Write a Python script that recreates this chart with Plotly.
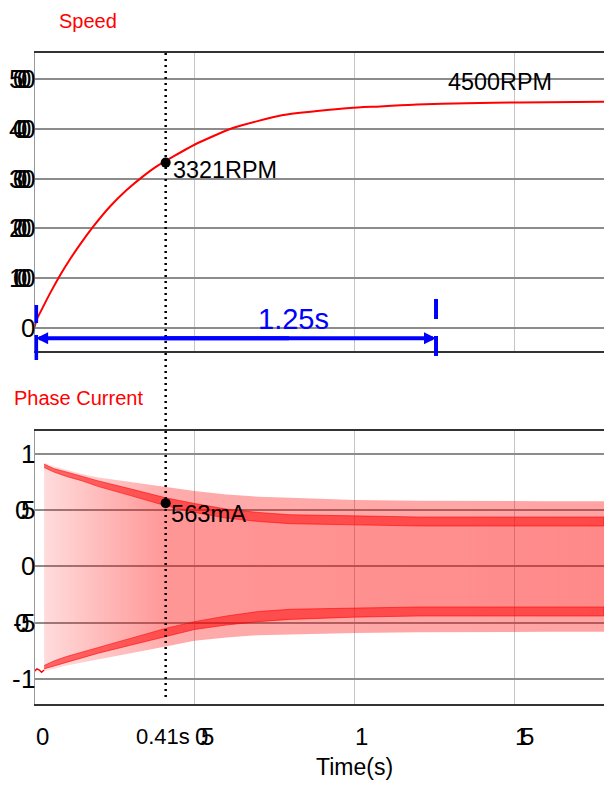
import plotly.graph_objects as go

W, H = 604, 787
FONT = "Liberation Sans, Arial, sans-serif"

# ---- motor speed during start-up (s, RPM) ----
speed_t = [0.0, 0.007, 0.028, 0.048, 0.08, 0.111, 0.142, 0.184, 0.236, 0.288, 0.34,
           0.377, 0.433, 0.5, 0.62, 0.777, 0.986, 1.08, 1.195, 1.35, 1.517, 1.78]
speed_rpm = [20, 170, 440, 690, 1060, 1380, 1675, 2040, 2440, 2770, 3050,
             3225, 3440, 3680, 4015, 4275, 4420, 4450, 4490, 4515, 4530, 4545]

# ---- phase current envelopes (A) ----
cur_start_t = [0.0, 0.008, 0.015, 0.022, 0.03]
cur_start_v = [-0.93, -0.91, -0.92, -0.94, -0.92]
cur_t = [0.03, 0.06, 0.1, 0.15, 0.2, 0.3, 0.41, 0.5, 0.6, 0.7, 0.8, 1.0, 1.2, 1.4, 1.6, 1.78]
cur_peak_hi = [0.92, 0.89, 0.86, 0.82, 0.79, 0.75, 0.71, 0.67, 0.64, 0.62, 0.61, 0.59, 0.585, 0.58, 0.58, 0.58]
cur_band_hi_top = [0.91, 0.87, 0.84, 0.80, 0.76, 0.69, 0.61, 0.56, 0.51, 0.48, 0.46, 0.45, 0.44, 0.44, 0.44, 0.44]
cur_band_hi_bot = [0.88, 0.84, 0.80, 0.76, 0.71, 0.63, 0.54, 0.48, 0.43, 0.40, 0.38, 0.37, 0.36, 0.36, 0.36, 0.36]
cur_band_lo_top = [-0.88, -0.84, -0.80, -0.76, -0.72, -0.64, -0.55, -0.49, -0.44, -0.40, -0.38, -0.37, -0.36, -0.36, -0.36, -0.36]
cur_band_lo_bot = [-0.91, -0.88, -0.85, -0.81, -0.77, -0.70, -0.62, -0.56, -0.52, -0.49, -0.47, -0.45, -0.44, -0.44, -0.44, -0.44]
cur_peak_lo = [-0.93, -0.91, -0.88, -0.85, -0.82, -0.77, -0.71, -0.66, -0.63, -0.61, -0.60, -0.59, -0.585, -0.58, -0.58, -0.58]

# ---- annotations / markers ----
mark_t = 0.41
mark_rpm = 3321
mark_cur = 0.563
final_rpm_label = "4500RPM"
span_start, span_end = 0.005, 1.255
span_label = "1.25s"
span_y = -207

# ---- axes ----
x_ticks = [0, 0.5, 1, 1.5]
x_tick_text = ["0", "0.5", "1", "1.5"]
speed_ticks = [0, 1000, 2000, 3000, 4000, 5000]
speed_tick_text = ["0", "1000", "2000", "3000", "4000", "5000"]
cur_ticks = [-1, -0.5, 0, 0.5, 1]
cur_tick_text = ["-1", "-0.5", "0", "0.5", "1"]

ADV = {c: 0.556 for c in "0123456789"}
ADV.update({".": 0.278, "-": 0.333})


def packed(text, size, k=0.28):
    """Character offsets for tick text drawn with tight, overlapping spacing."""
    offs, pos = [], 0.0
    for ch in text:
        offs.append((ch, pos))
        pos += ADV.get(ch, 0.556) * size * (k if len(text) > 2 else 1.0)
    total = offs[-1][1] + ADV.get(text[-1], 0.556) * size
    return offs, total


def label_chars(text, size, align, **kw):
    """Annotations placing each glyph of a tick label."""
    offs, total = packed(text, size)
    out = []
    for ch, p in offs:
        shift = p - total if align == "right" else p
        out.append(dict(text=ch, showarrow=False, xanchor="left", yanchor="middle",
                        borderpad=0, xshift=shift,
                        font=dict(family=FONT, size=size, color="black"), **kw))
    return out


def text_ann(text, size, color="black", **kw):
    kw.setdefault("xanchor", "center")
    return dict(text=text, showarrow=False, yanchor="middle", borderpad=0,
                font=dict(family=FONT, size=size, color=color), **kw)


fig = go.Figure()

fig.add_trace(go.Scatter(x=speed_t, y=speed_rpm, mode="lines",
                         line=dict(color="#ff0000", width=2, shape="spline", smoothing=0.6),
                         xaxis="x", yaxis="y", hoverinfo="skip"))

# outer current envelope
fig.add_trace(go.Scatter(
    x=cur_t + cur_t[::-1], y=cur_peak_hi + cur_peak_lo[::-1], fill="toself", mode="lines",
    line=dict(width=0), xaxis="x2", yaxis="y2", hoverinfo="skip",
    fillgradient=dict(type="horizontal", colorscale=[
        [0, "rgba(255,0,0,0.12)"], [0.22, "rgba(255,0,0,0.33)"], [1, "rgba(255,0,0,0.36)"]])))
# inner region
fig.add_trace(go.Scatter(
    x=cur_t + cur_t[::-1], y=cur_band_hi_bot + cur_band_lo_top[::-1], fill="toself", mode="lines",
    line=dict(width=0), xaxis="x2", yaxis="y2", hoverinfo="skip",
    fillgradient=dict(type="horizontal", colorscale=[
        [0, "rgba(255,0,0,0.02)"], [0.22, "rgba(255,0,0,0.12)"], [1, "rgba(255,0,0,0.16)"]])))
# dense bands at the current plateaus
for top, bot in [(cur_band_hi_top, cur_band_hi_bot), (cur_band_lo_top, cur_band_lo_bot)]:
    fig.add_trace(go.Scatter(
        x=cur_t + cur_t[::-1], y=top + bot[::-1], fill="toself", mode="lines",
        line=dict(width=0.8, color="rgba(255,0,0,0.7)"), fillcolor="rgba(255,0,0,0.55)",
        xaxis="x2", yaxis="y2", hoverinfo="skip"))
fig.add_trace(go.Scatter(x=cur_start_t, y=cur_start_v, mode="lines",
                         line=dict(color="#ff0000", width=1.5), xaxis="x2", yaxis="y2",
                         hoverinfo="skip"))

# measurement markers
fig.add_trace(go.Scatter(x=[mark_t], y=[mark_rpm], mode="markers",
                         marker=dict(color="black", size=10), xaxis="x", yaxis="y"))
fig.add_trace(go.Scatter(x=[mark_t], y=[mark_cur], mode="markers",
                         marker=dict(color="black", size=10), xaxis="x2", yaxis="y2"))

x_dom = [34.5 / W, 1]
xcommon = dict(range=[0, 1.78], tickvals=x_ticks, showticklabels=False, ticks="",
               showgrid=True, gridcolor="#c4c4c4", gridwidth=1, zeroline=False,
               showline=True, mirror=True, linecolor="#333333", linewidth=2, domain=x_dom)
ycommon = dict(showticklabels=False, ticks="", showgrid=True, gridcolor="#8c8c8c",
               gridwidth=1.5, zeroline=False, showline=True, linecolor="#999999", linewidth=1)
fig.update_layout(
    width=W, height=H, margin=dict(l=0, r=0, t=0, b=0),
    paper_bgcolor="white", plot_bgcolor="white", showlegend=False,
    xaxis=dict(anchor="y", **xcommon),
    xaxis2=dict(anchor="y2", matches="x", **xcommon),
    yaxis=dict(domain=[1 - 351 / H, 1 - 53 / H], range=[-462, 5522], tickvals=speed_ticks,
               anchor="x", **ycommon),
    yaxis2=dict(domain=[1 - 704 / H, 1 - 431 / H], range=[-1.222, 1.204], tickvals=cur_ticks,
                anchor="x2", **ycommon),
)

shapes = [
    dict(type="line", xref="x", yref="paper", x0=mark_t, x1=mark_t,
         y0=1 - 697 / H, y1=1 - 53 / H, line=dict(color="black", width=2.5, dash="2px,4px"),
         layer="above"),
]
for x, segs in [(span_start, [(305, 323), (335, 360)]), (span_end, [(299, 319), (336, 356)])]:
    for a, b in segs:
        shapes.append(dict(type="line", xref="x", yref="paper", x0=x, x1=x,
                           y0=1 - b / H, y1=1 - a / H, line=dict(color="#0000ff", width=4)))
fig.update_layout(shapes=shapes)

ann = []
# span arrow (two overlapping arrows so the shaft is continuous)
for end, start in ((span_start, 0.8), (span_end, 0.4)):
    ann.append(dict(x=end, y=span_y, xref="x", yref="y", ax=start, ay=span_y, axref="x",
                    ayref="y", text="", showarrow=True, arrowhead=2, arrowsize=0.6,
                    arrowwidth=4, arrowcolor="#0000ff", standoff=0, startstandoff=0))
ann.append(text_ann(span_label, 29, "#0000ff", x=0.81, y=190, xref="x", yref="y"))

# value labels
ann.append(text_ann(f"{mark_rpm}RPM", 23.4, x=0.43, y=3173, xref="x", yref="y",
                    xanchor="left"))
ann.append(text_ann(final_rpm_label, 23.4, x=1.289, y=4940, xref="x", yref="y",
                    xanchor="left"))
ann.append(text_ann(f"{round(mark_cur * 1000)}mA", 23.7, x=0.425, y=0.47, xref="x2",
                    yref="y2", xanchor="left"))

# panel titles
ann.append(text_ann("Speed", 20, "#ff0000", x=58 / W, y=1 - 21 / H, xref="paper",
                    yref="paper", xanchor="left"))
ann.append(text_ann("Phase Current", 20, "#ff0000", x=13 / W, y=1 - 398 / H, xref="paper",
                    yref="paper", xanchor="left"))

# tick labels
for v, t in zip(speed_ticks, speed_tick_text):
    ann += label_chars(t, 26, "right", x=0, xref="x domain", y=v, yref="y")
for v, t in zip(cur_ticks, cur_tick_text):
    ann += label_chars(t, 26, "right", x=0, xref="x2 domain", y=v, yref="y2")
for v, t in zip(x_ticks, x_tick_text):
    ann += label_chars(t, 24, "left", x=v, xref="x2", y=1 - 736 / H, yref="paper")
ann.append(text_ann(f"{mark_t}s", 22, x=mark_t, y=1 - 736 / H, xref="x2", yref="paper",
                    xshift=-3))
ann.append(text_ann("Time(s)", 23, x=1.0, y=1 - 767 / H, xref="x2", yref="paper"))
fig.update_layout(annotations=ann)

fig.write_html("out.html")
